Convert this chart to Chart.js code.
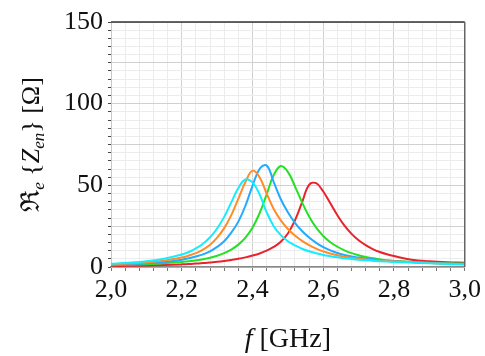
<!DOCTYPE html>
<html>
<head>
<meta charset="utf-8">
<script src="https://cdn.jsdelivr.net/npm/chart.js@4.4.1/dist/chart.umd.min.js"></script>
<style>
  html, body { margin: 0; padding: 0; background: #fff; }
</style>
</head>
<body>
<canvas id="grafico" width="485" height="356"></canvas>
<script>
const freq = [2.00, 2.05, 2.10, 2.15, 2.20, 2.22, 2.24, 2.26, 2.28, 2.30, 2.32, 2.34, 2.36, 2.38, 2.40,
              2.42, 2.44, 2.46, 2.48, 2.50, 2.52, 2.54, 2.56, 2.58, 2.60, 2.62, 2.64, 2.66, 2.68, 2.70,
              2.72, 2.74, 2.76, 2.78, 2.80, 2.85, 2.90, 2.95, 3.00];
const cyan   = [2.0, 2.6, 3.5, 5.0, 7.6, 9.2, 11.4, 14.2, 18.2, 23.6, 30.7, 39.6, 48.4, 53.6, 51.8,
                44.5, 33.5, 25.0, 19.5, 15.8, 13.2, 11.2, 9.6, 8.4, 7.4, 6.6, 5.9, 5.4, 4.9, 4.5,
                4.1, 3.8, 3.5, 3.3, 3.1, 2.7, 2.3, 1.9, 1.6];
const orange = [1.6, 2.1, 2.8, 3.9, 5.8, 7.0, 8.5, 10.6, 13.6, 18.0, 23.8, 31.8, 41.8, 52.0, 59.0,
                55.0, 45.0, 35.5, 28.5, 23.3, 19.3, 16.0, 13.4, 11.3, 9.6, 8.3, 7.2, 6.3, 5.6, 5.0,
                4.6, 4.2, 3.9, 3.6, 3.4, 2.9, 2.4, 2.0, 1.7];
const blue   = [1.4, 1.75, 2.3, 3.1, 4.5, 5.3, 6.4, 7.7, 9.6, 12.3, 15.8, 21.0, 27.8, 37.5, 49.7,
                60.0, 62.2, 52.0, 41.5, 33.5, 27.0, 22.0, 18.0, 14.8, 12.2, 10.2, 8.6, 7.4, 6.5, 5.8,
                5.2, 4.7, 4.3, 3.9, 3.6, 3.0, 2.5, 2.1, 1.8];
const green  = [1.1, 1.35, 1.7, 2.25, 3.1, 3.5, 4.1, 4.8, 5.7, 6.9, 8.5, 10.7, 13.7, 18.0, 24.1,
                32.9, 44.5, 56.3, 61.8, 58.2, 49.4, 39.6, 30.9, 24.1, 19.0, 15.2, 12.4, 10.2, 8.5, 7.2,
                6.2, 5.35, 4.7, 4.1, 3.7, 3.0, 2.6, 2.3, 2.1];
const red    = [0.5, 0.7, 0.9, 1.2, 1.6, 1.8, 2.1, 2.4, 2.8, 3.2, 3.7, 4.3, 5.0, 5.9, 7.0,
                8.3, 10.0, 12.3, 15.5, 20.5, 28.5, 39.5, 50.3, 51.3, 46.2, 39.0, 31.7, 25.3, 20.3, 16.4,
                13.4, 11.0, 9.2, 7.8, 6.7, 4.5, 3.5, 2.9, 2.6];

const xTickLabels = ['2,0', '2,2', '2,4', '2,6', '2,8', '3,0'];
const yTickLabels = ['0', '50', '100', '150'];

const serif = '"Liberation Serif", "Times New Roman", Times, serif';

function serie(vals, cor) {
    return {
        data: freq.map((f, i) => ({ x: f, y: vals[i] })),
        borderColor: cor,
        borderWidth: 2,
        pointRadius: 0,
        tension: 0.4,
        fill: false
    };
}

// títulos dos eixos (com subscritos) e moldura
const titulos = {
    id: 'titulos',
    afterDraw(chart) {
        const { ctx, chartArea: a } = chart;
        ctx.save();
        ctx.strokeStyle = '#333';
        ctx.lineWidth = 1.5;
        ctx.beginPath();
        ctx.moveTo(a.left, a.top);
        ctx.lineTo(a.right, a.top);
        ctx.stroke();
        ctx.strokeStyle = '#666';
        ctx.beginPath();
        ctx.moveTo(a.right, a.top);
        ctx.lineTo(a.right, a.bottom);
        ctx.stroke();

        ctx.fillStyle = '#111';
        ctx.textBaseline = 'alphabetic';
        ctx.textAlign = 'left';

        // eixo y
        const partes = [
            { t: '\u211C', f: '26px ' + serif, dy: 0 },
            { t: 'e', f: 'italic 17px ' + serif, dy: 5 },
            { t: ' {', f: '26px ' + serif, dy: 0 },
            { t: 'Z', f: 'italic 26px ' + serif, dy: 0 },
            { t: 'en', f: 'italic 17px ' + serif, dy: 5 },
            { t: '}', f: '26px ' + serif, dy: 0 },
            { t: ' [\u03A9]', f: '26px ' + serif, dy: 0 }
        ];
        let total = 0;
        partes.forEach(p => { ctx.font = p.f; p.w = ctx.measureText(p.t).width; total += p.w; });
        ctx.translate(31, (a.top + a.bottom) / 2);
        ctx.rotate(-Math.PI / 2);
        let x = -total / 2;
        partes.forEach(p => { ctx.font = p.f; ctx.fillText(p.t, x, 8 + p.dy); x += p.w; });
        ctx.setTransform(1, 0, 0, 1, 0, 0);

        // eixo x
        const px = [
            { t: 'f', f: 'italic 28px ' + serif },
            { t: ' [GHz]', f: '28px ' + serif }
        ];
        total = 0;
        px.forEach(p => { ctx.font = p.f; p.w = ctx.measureText(p.t).width; total += p.w; });
        x = (a.left + a.right) / 2 - total / 2;
        px.forEach(p => { ctx.font = p.f; ctx.fillText(p.t, x, 347); x += p.w; });
        ctx.restore();
    }
};

function desenhar() {
    new Chart(document.getElementById('grafico').getContext('2d'), {
        type: 'line',
        data: {
            datasets: [
                serie(cyan, '#14ecff'),
                serie(orange, '#ff8c26'),
                serie(blue, '#22aaff'),
                serie(green, '#25e025'),
                serie(red, '#e8232b')
            ]
        },
        options: {
            responsive: false,
            animation: false,
            layout: { padding: { top: 22, right: 17, left: 0, bottom: 0 } },
            plugins: { legend: { display: false }, tooltip: { enabled: false } },
            scales: {
                x: {
                    type: 'linear',
                    min: 2,
                    max: 3,
                    afterFit: s => { s.height = 89; },
                    border: { color: '#888', width: 1.5 },
                    grid: {
                        color: c => (Math.round(c.tick.value * 100) % 20 === 0 ? '#d0d0d0' : '#ececec'),
                        tickLength: 4,
                        tickColor: '#777'
                    },
                    ticks: {
                        stepSize: 0.04,
                        autoSkip: false,
                        maxRotation: 0,
                        padding: 4,
                        color: '#111',
                        font: { family: serif, size: 26 },
                        callback: v => {
                            const k = Math.round((v - 2) * 100);
                            return k % 20 === 0 ? xTickLabels[k / 20] : '';
                        }
                    }
                },
                y: {
                    min: 0,
                    max: 150,
                    afterFit: s => { s.width = 111; },
                    border: { color: '#c8c8c8' },
                    grid: {
                        color: c => (c.tick.value % 25 === 0 ? '#d0d0d0' : '#ececec'),
                        tickLength: 3,
                        tickColor: '#444'
                    },
                    ticks: {
                        stepSize: 5,
                        autoSkip: false,
                        padding: 5,
                        color: '#111',
                        font: { family: serif, size: 26 },
                        callback: v => (v % 50 === 0 ? yTickLabels[v / 50] : '')
                    }
                }
            }
        },
        plugins: [titulos]
    });
}

if (document.fonts && document.fonts.load) {
    Promise.all([
        document.fonts.load('26px "Liberation Serif"'),
        document.fonts.load('italic 26px "Liberation Serif"')
    ]).then(desenhar, desenhar);
} else {
    desenhar();
}
</script>
</body>
</html>
